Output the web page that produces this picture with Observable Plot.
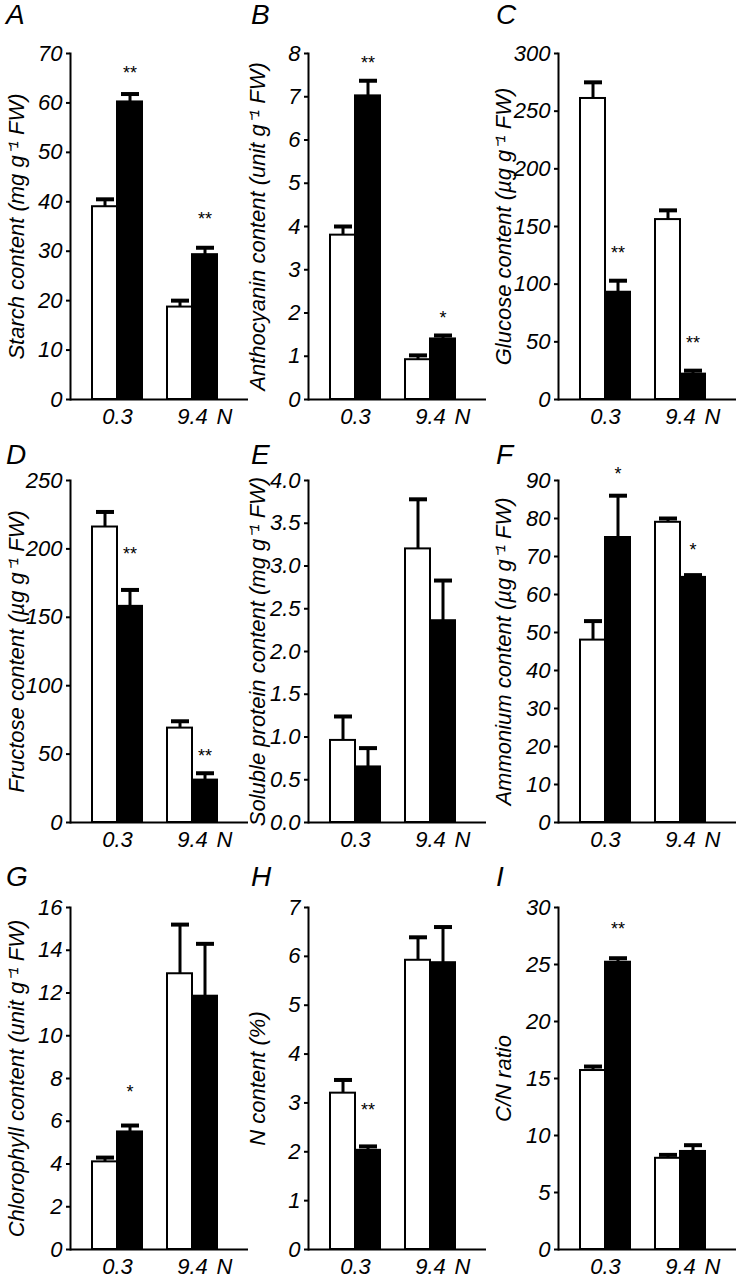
<!DOCTYPE html>
<html><head><meta charset="utf-8">
<script src="https://cdn.jsdelivr.net/npm/d3@7"></script>
<script src="https://cdn.jsdelivr.net/npm/@observablehq/plot@0.6"></script>
<style>
body{margin:0;background:#fff;}
#root{position:relative;width:738px;height:1281px;overflow:hidden;background:#fff;font-family:"Liberation Sans",Arial,sans-serif;}
#root svg{position:absolute;}
.letter{position:absolute;font-style:italic;font-size:28px;line-height:1;color:#000;}
</style></head><body><div id="root"></div>
<script>
// ---- data ----
const groups = ["0.3", "9.4"];
const panelLetters = ["A","B","C","D","E","F","G","H","I"];
const yTitles = [
  "Starch content (mg g\u207B\u00B9 FW)",
  "Anthocyanin content (unit g\u207B\u00B9 FW)",
  "Glucose content (\u00B5g g\u207B\u00B9 FW)",
  "Fructose content (\u00B5g g\u207B\u00B9 FW)",
  "Soluble protein content (mg g\u207B\u00B9 FW)",
  "Ammonium content (\u00B5g g\u207B\u00B9 FW)",
  "Chlorophyll content (unit g\u207B\u00B9 FW)",
  "N content (%)",
  "C/N ratio"
];
const yTicks = [
  [0,10,20,30,40,50,60,70],
  [0,1,2,3,4,5,6,7,8],
  [0,50,100,150,200,250,300],
  [0,50,100,150,200,250],
  [0,0.5,1,1.5,2,2.5,3,3.5,4],
  [0,10,20,30,40,50,60,70,80,90],
  [0,2,4,6,8,10,12,14,16],
  [0,1,2,3,4,5,6,7],
  [0,5,10,15,20,25,30]
];
const tickFormats = ["d","d","d","d",".1f","d","d","d","d"];
// white (open) bars: mean and SE for N 0.3 and 9.4
const whiteMeans = [[39,18.7],[3.8,0.92],[261,156],[216,69],[0.96,3.2],[48,79],[4.1,12.9],[3.2,5.92],[15.7,8.0]];
const whiteErrs  = [[1.5,1.3],[0.2,0.1],[14,8],[11,5],[0.28,0.58],[5,1],[0.2,2.3],[0.27,0.47],[0.35,0.3]];
// black (filled) bars
const blackMeans = [[60.2,29.3],[7.02,1.4],[93,22],[158,31],[0.65,2.36],[75,64.5],[5.5,11.85],[2.03,5.87],[25.2,8.6]];
const blackErrs  = [[1.6,1.4],[0.35,0.08],[10,3],[12,5],[0.22,0.47],[11,0.6],[0.3,2.45],[0.08,0.73],[0.35,0.55]];
// significance marks above black bars
const starTexts = [["**","**"],["**","*"],["**","**"],["**","**"],["",""],["*","*"],["*",""],["**",""],["**",""]];
const starYs    = [[67,37.5],[7.9,2.0],[131,53],[200,52],[0,0],[93,73],[7.6,0],[2.95,0],[28.5,0]];

// ---- layout ----
const colLeft = [0, 245, 490];
const axisXpos = [70, 308, 558];
const titleX = [16, 12, 13];
const rowSvgTop = [0, 425, 850];
const rowTopTick = [53, 480, 907];
const rowBase = [399, 822, 1249];
const letterTop = [1, 441, 863];
const W = 248, PW = 178, MB = 32;

const capSymbol = {draw(ctx, size){ const r = Math.sqrt(size/Math.PI); ctx.rect(-r, -2, 2*r, 4); }};

const root = document.getElementById("root");
panelLetters.forEach((L, i) => {
  const row = Math.floor(i/3), col = i % 3;
  const ML = axisXpos[col] - colLeft[col];
  const MT = rowTopTick[row] - rowSvgTop[row];
  const H = rowBase[row] - rowSvgTop[row] + MB;
  const ticks = yTicks[i];
  const ymax = ticks[ticks.length-1];
  const rows = groups.map((g, j) => ({g, w: whiteMeans[i][j], we: whiteErrs[i][j], b: blackMeans[i][j], be: blackErrs[i][j], s: starTexts[i][j], sy: starYs[i][j]}));
  const stars = rows.filter(d => d.s);
  const svg = Plot.plot({
    width: W, height: H,
    marginLeft: ML, marginRight: W - ML - PW, marginTop: MT, marginBottom: MB,
    style: {background: "transparent", fontFamily: "Liberation Sans, Arial, sans-serif", color: "black", overflow: "visible"},
    x: {domain: groups, paddingInner: 1/3, paddingOuter: 0.3533, align: 0.4245},
    y: {domain: [0, ymax]},
    marks: [
      Plot.barY(rows, {x: "g", y: "w", fill: "white", stroke: "black", strokeWidth: 2, insetRight: 25}),
      Plot.barY(rows, {x: "g", y: "b", fill: "black", stroke: "black", strokeWidth: 2, insetLeft: 25}),
      Plot.ruleX(rows, {x: "g", y1: "w", y2: d => d.w + d.we, dx: -12.5, strokeWidth: 3}),
      Plot.ruleX(rows, {x: "g", y1: "b", y2: d => d.b + d.be, dx: 12.5, strokeWidth: 3}),
      Plot.dot(rows, {x: "g", y: d => d.w + d.we, symbol: capSymbol, r: 9, fill: "black", dx: -12.5}),
      Plot.dot(rows, {x: "g", y: d => d.b + d.be, symbol: capSymbol, r: 9, fill: "black", dx: 12.5}),
      Plot.text(stars, {x: "g", y: "sy", text: "s", dx: 12.5, dy: 5, fontSize: 18, fill: "black"}),
      Plot.ruleY([0], {strokeWidth: 2}),
      Plot.frame({anchor: "left", strokeWidth: 2}),
      Plot.axisY({ticks, tickFormat: d3.format(tickFormats[i]), tickSize: 4, tickPadding: 4, fontSize: 22, fontStyle: "italic", label: null, strokeWidth: 2}),
      Plot.axisX({tickSize: 0, tickPadding: 9, fontSize: 22, fontStyle: "italic", label: null}),
      Plot.text(["N"], {frameAnchor: "bottom-right", dx: -16, dy: 9, lineAnchor: "top", fontSize: 22, fontStyle: "italic", fill: "black"}),
      Plot.text([yTitles[i]], {frameAnchor: "left", textAnchor: "middle", rotate: -90, dx: titleX[col] - ML, fontSize: 22, fontStyle: "italic", fill: "black"})
    ]
  });
  svg.style.left = colLeft[col] + "px";
  svg.style.top = rowSvgTop[row] + "px";
  root.appendChild(svg);
  const span = document.createElement("div");
  span.className = "letter";
  span.textContent = L;
  span.style.left = (colLeft[col] + 6) + "px";
  span.style.top = letterTop[row] + "px";
  root.appendChild(span);
});
</script>
</body></html>
